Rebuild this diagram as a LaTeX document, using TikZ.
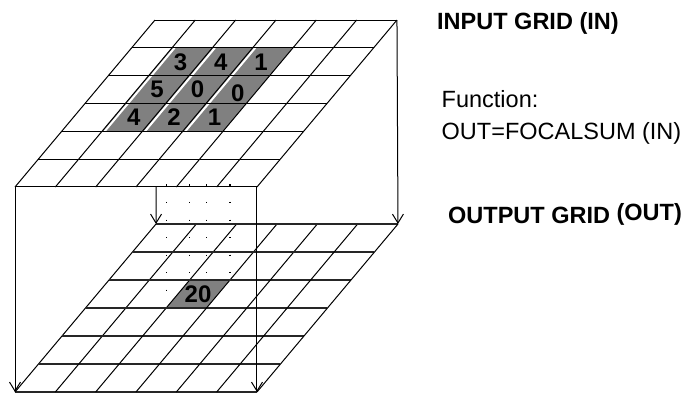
\documentclass[tikz,border=0pt]{standalone}
\usepackage{fontspec}
\setmainfont{Liberation Sans}
\usetikzlibrary{calc,arrows.meta}

\tikzset{
  gridline/.style={draw=black, line width=1pt},
  lowgridline/.style={draw=black!85, line width=1.3pt},
  edgearrow/.style={draw=black, line width=1pt, -{Straight Barb[length=9pt,width=11pt]}},
  cellfill/.style={fill=gray, draw=none},
  cellgap/.style={draw=white, line width=2pt, xshift=2.6pt},
  dotline/.style={draw=black, line width=1.1pt, dash pattern=on 1.1pt off 16.4pt},
  digit/.style={font=\fontsize{24}{28}\selectfont\bfseries, inner sep=0pt},
  biglabel/.style={font=\fontsize{23.5}{28}\selectfont\bfseries, anchor=base west, inner sep=0pt},
  plainlabel/.style={font=\fontsize{23.5}{28}\selectfont, anchor=base west, inner sep=0pt},
  outgrid/.style={shift={(15,392)}, x={(40.33pt,0pt)}, y={(23.5pt,28pt)}},
  ingrid/.style={shift={(15,187)}, x={(40.33pt,0pt)}, y={(23.33pt,27.83pt)}}
}

\begin{document}
\begin{tikzpicture}[x=1pt, y=-1pt]
\useasboundingbox (0,0) rectangle (684,395);

% ---------- output grid (lower layer) ----------
\begin{scope}[outgrid]
  \coordinate (oFL) at (0,0);
  \coordinate (oFR) at (6,0);
  \coordinate (oBL) at (0,6);
  \coordinate (oBR) at (6,6);
  \coordinate (c1) at (2,3);
  \coordinate (c2) at (3,3);
  \coordinate (c3) at (2,4);
  \coordinate (c4) at (3,4);
\end{scope}

% dotted drop lines from the focal neighbourhood
\coordinate (dtop) at (0,184.5);
\foreach \c in {c1,c2,c3,c4}
  \draw[dotline] (\c |- dtop) -- (\c);

\begin{scope}[outgrid]
  \path[cellfill] (2,3) -- (3,3) -- (3,4) -- (2,4) -- cycle;
  \node[digit] (res) at (2.5,3.5) {20};
  \foreach \i in {0,...,6} {
    \draw[lowgridline] (0,\i) -- (6,\i);
    \draw[gridline] (\i,0) -- (\i,6);
  }
\end{scope}

% ---------- input grid (upper layer) ----------
\begin{scope}[ingrid]
  \coordinate (iFL) at (0,0);
  \coordinate (iFR) at (6,0);
  \coordinate (iBL) at (0,6);
  \coordinate (iBR) at (6,6);
  \coordinate (iMid) at (3.5,0);
  % 3x3 focal neighbourhood
  \path[cellfill] (1,2) -- (4,2) -- (4,5) -- (1,5) -- cycle;
  \foreach \c in {1,2,3}
    \draw[cellgap] (\c,2) -- (\c,5);
  \foreach \i in {0,...,6} {
    \draw[gridline] (0,\i) -- (6,\i);
    \draw[gridline] (\i,0) -- (\i,6);
  }
  \node[digit] (n11) at (1.5,4.5) {3};
  \node[digit] (n12) at (2.5,4.5) {4};
  \node[digit] (n13) at (3.5,4.5) {1};
  \node[digit] (n21) at (1.5,3.5) {5};
  \node[digit] (n22) at (2.5,3.5) {0};
  \node[digit, yshift=-4pt] (n23) at (3.5,3.5) {0};
  \node[digit] (n31) at (1.5,2.5) {4};
  \node[digit] (n32) at (2.5,2.5) {2};
  \node[digit] (n33) at (3.5,2.5) {1};
\end{scope}

% ---------- vertical box edges ----------
\draw[edgearrow] (iFL) -- (oFL);
\draw[edgearrow] (iFR) -- (oFR);
\draw[edgearrow] (iBR) -- (oBR);
\draw[edgearrow] (iMid) -- (oBL);

% ---------- labels ----------
\node[biglabel] (lin) at (437,30) {INPUT GRID (IN)};
\node[plainlabel] (lfn) at (441.5,108) {Function:};
\node[plainlabel] (lfx) at (441.5,140) {OUT=FOCALSUM (IN)};
\node[biglabel] (lout) at (448,223) {OUTPUT GRID \raisebox{2.5pt}{(OUT)}};
\end{tikzpicture}
\end{document}
